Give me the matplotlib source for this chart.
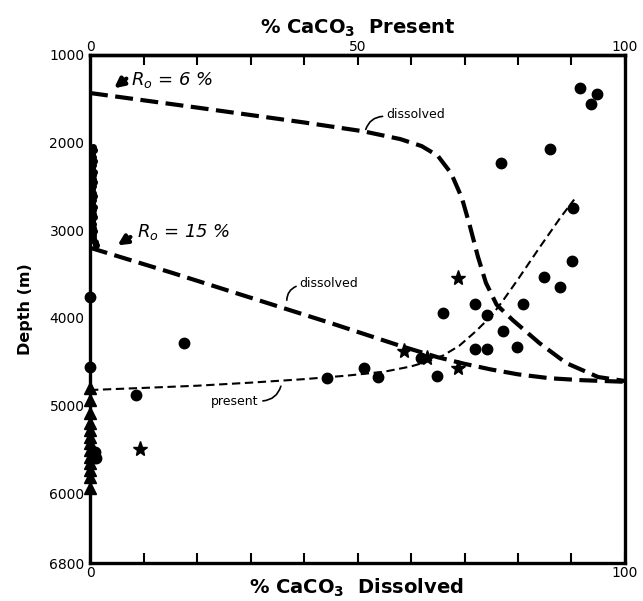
import numpy as np
import matplotlib
matplotlib.use('Agg')
from matplotlib import pyplot as plt

plt.rcParams['font.family'] = ['DejaVu Sans']
plt.rcParams['mathtext.fontset'] = 'dejavusans'

# Dissolution curves (x = % CaCO3, depth in m)
r6_x = [0, 20, 40, 51, 58, 62, 65, 67.5, 69.5, 71, 72.5, 74, 76, 79, 84, 89, 95, 100]
r6_depth = [1434, 1600, 1770, 1870, 1960, 2040, 2150, 2350, 2630, 2950, 3300, 3600,
            3850, 4025, 4288, 4516, 4676, 4721]

r15_x = [0, 15, 30, 45, 58, 65, 70, 75, 80, 86, 92, 100]
r15_depth = [3200, 3480, 3770, 4060, 4320, 4450, 4525, 4590, 4645, 4690, 4712, 4730]

present_x = [0, 10, 20, 30, 40, 48, 55, 60, 63, 66, 69, 72, 75, 77, 80, 84, 88, 90.5]
present_depth = [4824, 4800, 4775, 4740, 4700, 4660, 4615, 4555, 4500, 4430, 4320,
                 4160, 3980, 3820, 3560, 3200, 2850, 2650]

# Samples
dot_x = [91.6, 94.8, 93.6, 86.0, 76.8, 90.3, 90.1, 87.8, 84.9,
         17.6, 8.6, 0, 0, 1.0, 1.2,
         44.3, 51.2, 53.8, 66.0, 64.9, 61.9,
         72.0, 80.9, 74.2, 77.2, 72.0, 74.2, 79.8]
dot_depth = [1377, 1445, 1560, 2073, 2233, 2747, 3352, 3648, 3534,
             4288, 4881, 3763, 4562, 5530, 5600,
             4687, 4573, 4676, 3945, 4664, 4459,
             3842, 3842, 3968, 4151, 4356, 4356, 4333]

star_x = [9.3, 58.7, 63.0, 68.8, 68.8]
star_depth = [5498, 4379, 4459, 4573, 3546]

tri_depth = [4801, 4938, 5087, 5201, 5281, 5361, 5429, 5509, 5589, 5658, 5737, 5817, 5943]
zero_depth = [2050, 2090, 2130, 2170, 2210, 2250, 2290, 2330, 2370, 2410, 2450, 2490,
              2530, 2570, 2610, 2650, 2690, 2730, 2770, 2810, 2850, 2890, 2930,
              2970, 3010, 3050, 3090, 3130, 3170]
zero_offset = [0.5, 0.7, 0.4, 0.6, 0.8, 0.5, 0.4, 0.7, 0.6, 0.5, 0.8, 0.6, 0.4, 0.5,
               0.7, 0.6, 0.4, 0.8, 0.5, 0.6, 0.7, 0.4, 0.5, 0.6, 0.8, 0.5, 0.6, 0.9, 1.1]

ytick_vals = [1000, 2000, 3000, 4000, 5000, 6000, 6800]

fig = plt.figure(figsize=(6.43, 6.01), dpi=100)
ax = fig.add_axes([0.140, 0.063, 0.832, 0.8455])

ax.plot(r6_x, r6_depth, color='black', lw=3, dashes=(4.3, 1.8))
ax.plot(r15_x, r15_depth, color='black', lw=3, dashes=(4.3, 1.8))
ax.plot(present_x, present_depth, color='black', lw=1.5, dashes=(4, 2.2))

ax.plot(zero_offset, zero_depth, 'o', color='black', ms=4, clip_on=False)
ax.plot(dot_x, dot_depth, 'o', color='black', ms=7.5, clip_on=False)
ax.plot(star_x, star_depth, '*', color='black', ms=11, clip_on=False)
ax.plot([0] * len(tri_depth), tri_depth, '^', color='black', ms=8, clip_on=False)

ax.set_xlim(0, 100)
ax.set_ylim(6800, 1000)
ax.set_yticks(ytick_vals)
ax.set_yticklabels([str(v) for v in ytick_vals], fontsize=10)
ax.tick_params(axis='y', length=0, pad=4)

ax.set_xticks(np.arange(0, 101, 10))
ax.set_xticklabels(['0' if v == 0 else ('100' if v == 100 else '') for v in range(0, 101, 10)],
                   fontsize=10)
ax.tick_params(axis='x', direction='in', length=7, width=1.5, pad=2)

top = ax.secondary_xaxis('top')
top.set_xticks(np.arange(0, 101, 10))
top.set_xticklabels(['0' if v == 0 else ('50' if v == 50 else ('100' if v == 100 else ''))
                     for v in range(0, 101, 10)], fontsize=10)
top.tick_params(direction='in', length=7, width=1.5, pad=1)
top.spines['top'].set_linewidth(2.4)

for s in ax.spines.values():
    s.set_linewidth(2.4)

ax.set_ylabel('Depth (m)', fontsize=11.5, fontweight='bold', labelpad=12)
fig.text(0.555, 1 - 588 / 601, r'% CaCO$_\mathbf{3}$  Dissolved', fontsize=14,
         fontweight='bold', ha='center', va='center')
top.set_xlabel(r'% CaCO$_\mathbf{3}$  Present', fontsize=14, fontweight='bold', labelpad=4)

# Labels on the curves
ax.text(7.6, 1290, r'$R_o$ = 6 %', fontsize=13, fontstyle='italic', va='center')
ax.annotate('', xy=(4.1, 1400), xytext=(7.2, 1250),
            arrowprops=dict(arrowstyle='-|>', lw=3, color='black', mutation_scale=14))
ax.text(8.8, 3020, r'$R_o$ = 15 %', fontsize=13, fontstyle='italic', va='center')
ax.annotate('', xy=(4.7, 3190), xytext=(8.0, 3060),
            arrowprops=dict(arrowstyle='-|>', lw=3, color='black', mutation_scale=14))

ax.text(55.3, 1680, 'dissolved', fontsize=9, va='center')
ax.annotate('', xy=(51.4, 1880), xytext=(55.2, 1700),
            arrowprops=dict(arrowstyle='-', lw=1.2, color='black',
                            connectionstyle='arc3,rad=0.4'))
ax.text(39.2, 3610, 'dissolved', fontsize=9, va='center')
ax.annotate('', xy=(36.8, 3830), xytext=(39.0, 3630),
            arrowprops=dict(arrowstyle='-', lw=1.2, color='black',
                            connectionstyle='arc3,rad=0.4'))
ax.text(31.5, 4960, 'present', fontsize=9, va='center', ha='right')
ax.annotate('', xy=(35.8, 4750), xytext=(31.8, 4950),
            arrowprops=dict(arrowstyle='-', lw=1.2, color='black',
                            connectionstyle='arc3,rad=0.4'))

fig.savefig('out.png', dpi=100, facecolor='white')
